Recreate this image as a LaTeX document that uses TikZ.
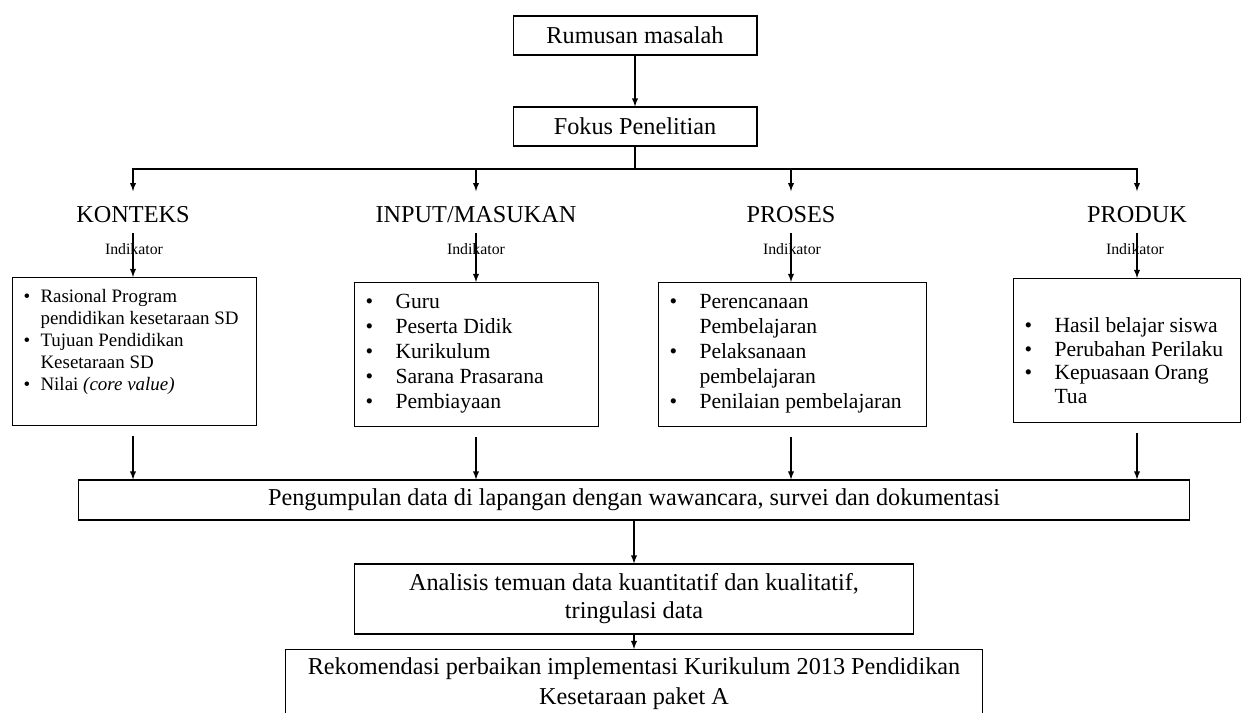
\documentclass[tikz,border=0pt]{standalone}
\usepackage{fontspec}
\setmainfont{Liberation Serif}
\usetikzlibrary{arrows}
\tikzstyle{box} = [rectangle, draw=black, line width=0.6pt, text centered, font=\fontsize{13.8}{16}\selectfont]
\tikzstyle{lbl} = [font=\fontsize{13.8}{16}\selectfont, inner ysep=5.7pt, text height=11.9pt, text depth=0pt]
\tikzstyle{ind} = [font=\fontsize{9}{10}\selectfont, inner sep=0pt]
\tikzstyle{list} = [rectangle, draw=black, line width=0.6pt, anchor=north west, inner sep=0pt, align=left, font=\fontsize{12.3}{14.2}\selectfont]
\tikzstyle{line} = [line width=0.6pt]
\tikzstyle{arrow} = [line width=0.6pt, ->, >=latex]
\newcommand{\itm}[2][0.6cm]{\mbox{\spaceskip=0pt\xspaceskip=0pt\hspace*{0.22cm}\makebox[#1][l]{\textbullet}#2}}
\newcommand{\nxt}[2][0.6cm]{\mbox{\spaceskip=0pt\xspaceskip=0pt\hspace*{0.22cm}\hspace*{#1}#2}}

\begin{document}
\begin{tikzpicture}[x=0.02cm, y=-0.02cm]
	\useasboundingbox (0,0) rectangle (1244,713);
	\node (rm) [box, minimum width=4.88cm, minimum height=0.78cm] at (635,35.5) {Rumusan masalah};
	\node (fp) [box, minimum width=4.88cm, minimum height=0.78cm] at (635,126.5) {Fokus Penelitian};
	\coordinate (bus) at (635,169);
	
	\node (kon) [lbl] at (133,212) {KONTEKS};
	\node (inp) [lbl] at (476,212) {INPUT/MASUKAN};
	\node (pro) [lbl] at (791,212) {PROSES};
	\node (prd) [lbl] at (1137,212) {PRODUK};
	
	\node (ik1) [ind] at (134,249) {Indikator};
	\node (ik2) [ind] at (476,249) {Indikator};
	\node (ik3) [ind] at (792,249) {Indikator};
	\node (ik4) [ind] at (1135,249) {Indikator};
	
	\node (kbox) [list, text width=4.88cm, text height=0.5cm, text depth=2.46cm, font=\fontsize{10.8}{12.5}\selectfont] at (12,277) {%
		\itm[0.34cm]{Rasional Program}\\
		\nxt[0.34cm]{pendidikan kesetaraan SD}\\
		\itm[0.34cm]{Tujuan Pendidikan}\\
		\nxt[0.34cm]{Kesetaraan SD}\\
		\itm[0.34cm]{Nilai \textit{(core value)}}};
	\node (ibox) [list, text width=4.88cm, text height=0.52cm, text depth=2.36cm] at (354,282) {%
		\itm{Guru}\\
		\itm{Peserta Didik}\\
		\itm{Kurikulum}\\
		\itm{Sarana Prasarana}\\
		\itm{Pembiayaan}};
	\node (pbox) [list, text width=5.36cm, text height=0.52cm, text depth=2.36cm] at (658,282) {%
		\itm{Perencanaan}\\
		\nxt{Pembelajaran}\\
		\itm{Pelaksanaan}\\
		\nxt{pembelajaran}\\
		\itm{Penilaian pembelajaran}};
	\node (dbox) [list, text width=4.54cm, text height=1.08cm, text depth=1.8cm, font=\fontsize{12.3}{13.4}\selectfont] at (1013,278) {%
		\itm{Hasil belajar siswa}\\
		\itm{Perubahan Perilaku}\\
		\itm{Kepuasaan Orang}\\
		\nxt{Tua}};
	
	\node (kum) [box, minimum width=22.24cm, minimum height=0.8cm] at (634,500) {Pengumpulan data di lapangan dengan wawancara, survei dan dokumentasi};
	\node (ana) [box, align=center, minimum width=11.2cm, minimum height=1.4cm, font=\fontsize{13.8}{15.9}\selectfont] at (634,599) {Analisis temuan data kuantitatif dan kualitatif,\\ tringulasi data};
	\node (rek) [box, align=center, anchor=north, minimum width=13.96cm, minimum height=1.36cm, font=\fontsize{13.8}{17}\selectfont] at (634,649) {Rekomendasi perbaikan implementasi Kurikulum 2013 Pendidikan\\ Kesetaraan paket A};
	
	\draw [arrow] (rm) -- (fp);
	\draw [line] (fp) -- (bus);
	\draw [arrow] (bus) -| (kon);
	\draw [arrow] (bus) -| (inp);
	\draw [arrow] (bus) -| (pro);
	\draw [arrow] (bus) -| (prd);
	
	\draw [arrow] (kon) -- (kon |- kbox.north);
	\draw [arrow] (inp) -- (inp |- ibox.north);
	\draw [arrow] (pro) -- (pro |- pbox.north);
	\draw [arrow] (prd) -- (prd |- dbox.north);
	
	\draw [arrow, shorten <=0.2cm] (kon |- kbox.south) -- (kon |- kum.north);
	\draw [arrow, shorten <=0.2cm] (inp |- ibox.south) -- (inp |- kum.north);
	\draw [arrow, shorten <=0.2cm] (pro |- pbox.south) -- (pro |- kum.north);
	\draw [arrow, shorten <=0.2cm] (prd |- dbox.south) -- (prd |- kum.north);
	
	\draw [arrow] (kum) -- (ana);
	\draw [arrow] (ana) -- (rek);
\end{tikzpicture}
\end{document}
